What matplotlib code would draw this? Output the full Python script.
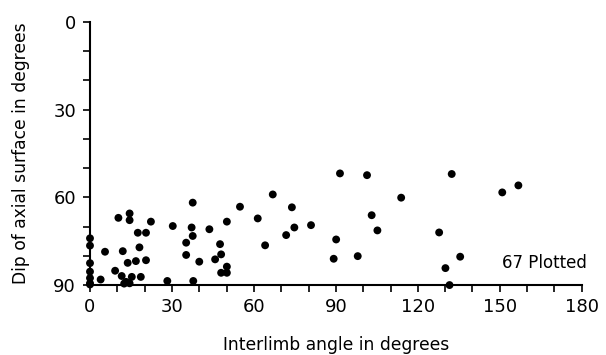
import matplotlib
matplotlib.use("Agg")
import matplotlib.pyplot as plt
import numpy as np

# Interlimb angle (degrees) and dip of axial surface (degrees)
interlimb = [0, 0, 0, 0, 0, 0, 0,
             3.9, 5.5, 9.2, 11.6, 13.2, 15.3, 18.6, 12.5, 14.5,
             12.0, 18.1, 13.8, 16.8, 20.5,
             17.5, 20.5, 22.3,
             10.4, 14.5, 14.5,
             30.3, 37.6, 37.2, 37.6, 35.2, 43.7, 50.1,
             47.6, 35.2, 40.0, 45.8, 48.0, 48.0, 50.1, 50.1,
             28.3, 37.8,
             54.9, 61.4, 66.9, 73.9, 74.8, 71.8, 64.1, 80.9,
             91.5, 101.4, 113.9, 103.1, 105.2, 90.1, 89.2, 98.0,
             127.8, 132.4, 135.5, 130.1, 131.6, 150.9, 156.8]
dip = [74.0, 76.5, 82.5, 85.4, 87.6, 89.4, 89.8,
       88.1, 78.6, 85.1, 86.9, 88.9, 87.2, 87.2, 89.5, 89.4,
       78.4, 77.1, 82.4, 81.8, 81.5,
       72.1, 72.1, 68.3,
       67.0, 65.5, 67.8,
       69.8, 61.8, 70.3, 73.2, 75.5, 70.9, 68.3,
       76.0, 79.7, 82.0, 81.2, 79.5, 85.8, 83.7, 85.8,
       88.6, 88.6,
       63.2, 67.2, 59.0, 63.4, 70.3, 72.9, 76.4, 69.5,
       51.8, 52.4, 60.1, 66.1, 71.3, 74.4, 81.0, 80.1,
       72.0, 52.0, 80.3, 84.2, 90.0, 58.3, 55.9]

x_major = [0, 30, 60, 90, 120, 150, 180]
y_major = [0, 30, 60, 90]

fig = plt.figure(figsize=(6.06, 3.55), dpi=100)
ax = fig.add_axes([0.1485, 0.197, 0.8115, 0.741])

ax.scatter(interlimb, dip, s=32, color="black", edgecolors="none",
           zorder=3, clip_on=False)

ax.set_xlim(0, 180)
ax.set_ylim(90, 0)
ax.set_xticks(x_major)
ax.set_yticks(y_major)
ax.set_xticks(np.arange(0, 181, 10), minor=True)
ax.set_yticks(np.arange(0, 91, 10), minor=True)

for side in ["top", "right"]:
    ax.spines[side].set_visible(False)
for side in ["left", "bottom"]:
    ax.spines[side].set_linewidth(1.5)
    ax.spines[side].set_color("black")

ax.tick_params(which="both", direction="out", length=5, width=1.2,
               color="black", labelsize=13)
ax.tick_params(axis="x", pad=4)
ax.tick_params(axis="y", pad=5)

ax.set_xlabel("Interlimb angle in degrees", fontsize=12.3, labelpad=15)
ax.set_ylabel("Dip of axial surface in degrees", fontsize=12.3, labelpad=17)

ax.text(1.01, 0.084, "67 Plotted", transform=ax.transAxes,
        ha="right", va="center", fontsize=12)

fig.savefig("out.png", dpi=100)
